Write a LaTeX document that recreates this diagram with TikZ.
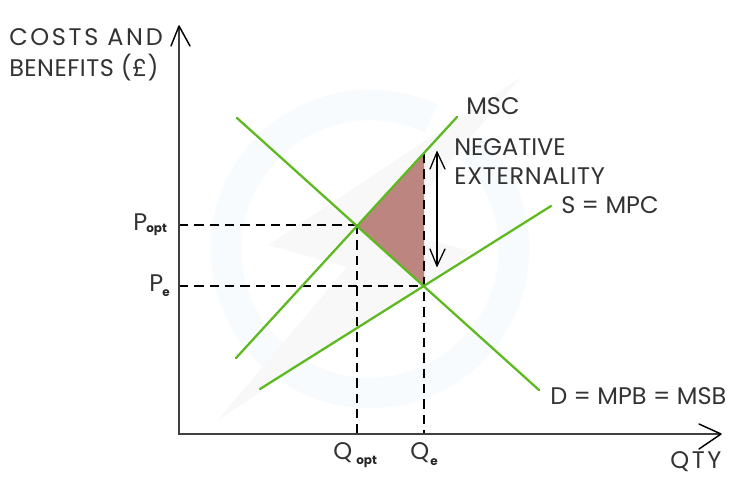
\documentclass[tikz,border=0pt]{standalone}
\usepackage{fontspec}
\setmainfont{Poppins}
\definecolor{curve}{HTML}{5DB91F}
\definecolor{wedge}{HTML}{BC8580}
\definecolor{wm}{HTML}{F8FBFD}
\definecolor{wmg}{HTML}{F8F8F8}
\newcommand{\spaced}[1]{\addfontfeature{LetterSpace=#1}}
\tikzset{
  x=0.75pt,y=-0.75pt,
  axis/.style={draw=black!75,line width=1.5pt},
  tip/.style={draw=black,line width=1.1pt,line cap=round,line join=round},
  curveline/.style={draw=curve,line width=1.7pt,line cap=round},
  guide/.style={draw=black,line width=0.95pt,dash pattern=on 7pt off 4.5pt},
  lab/.style={inner sep=0pt,font=\fontsize{18}{20}\selectfont,anchor=west,text=black!80},
  small/.style={inner sep=0pt,font=\fontsize{9}{11}\selectfont\bfseries,anchor=west,text=black!85}
}
\begin{document}
\begin{tikzpicture}
\useasboundingbox (0,0) rectangle (746,480);
\fill[white] (0,0) rectangle (746,480);
% watermark
\draw[wm,line width=23pt] (370,249) ++(-45:144) arc[start angle=-45,end angle=295,radius=144];
\fill[wmg] (520,78) -- (268,245) -- (347,267) -- (218,420) -- (473,252) -- (393,230) -- cycle;
% coordinates
\coordinate (O) at (179,434);
\coordinate (ytop) at (179,26);
\coordinate (xend) at (721,434);
\coordinate (opt) at (357,225);
\coordinate (eq) at (424,286);
\coordinate (top) at (424,154);
\coordinate (popt) at (179,225);
\coordinate (pe) at (179,286);
\coordinate (qopt) at (357,434);
\coordinate (qe) at (424,434);
\coordinate (mscA) at (236,358);
\coordinate (mscB) at (457,117);
\coordinate (sA) at (260,389);
\coordinate (sB) at (551,206);
\coordinate (dA) at (237,118);
\coordinate (dB) at (539,390);
\coordinate (arrT) at (437,152);
\coordinate (arrB) at (437,266);
% wedge
\fill[wedge] (opt) -- (top) -- (eq) -- cycle;
% guides
\draw[guide] (popt) -- (opt);
\draw[guide] (pe) -- (eq);
\draw[guide] (opt) -- (qopt);
\draw[guide] (top) -- (qe);
% curves
\draw[curveline] (mscA) -- (mscB);
\draw[curveline] (sA) -- (sB);
\draw[curveline] (dA) -- (dB);
% axes
\draw[axis] (ytop) -- (O) -- (xend);
\draw[tip] (171,46) -- (179,26) -- (190,46);
\draw[tip] (699,424) -- (721,434) -- (699,449);
% double arrow
\draw[tip,line width=0.95pt] (arrT) -- (arrB);
\draw[tip,line width=0.95pt] (430,169) -- (arrT) -- (445,169);
\draw[tip,line width=0.95pt] (430,249) -- (arrB) -- (445,249);
% labels
\node[lab] (ylab1) at (9,37) {\spaced{11}COSTS AND};
\node[lab] (ylab2) at (9,68) {\spaced{2}BENEFITS (£)};
\node[lab] (msc) at (466,106) {MSC};
\node[lab] (neg1) at (454,147) {NEGATIVE};
\node[lab] (neg2) at (454,176) {\spaced{3}EXTERNALITY};
\node[lab] (smpc) at (561,205) {S = MPC};
\node[lab] (dmpb) at (550,396) {D = MPB = MSB};
\node[lab] (qty) at (670,462) {\spaced{11}QTY};
\node[lab] (pol) at (133,222) {P};
\node[small] (pos) at (146,230) {opt};
\node[lab] (pel) at (149,283) {P};
\node[small] (pes) at (162,293) {e};
\node[lab] (qol) at (333,453) {Q};
\node[small] (qos) at (356,462) {opt};
\node[lab] (qel) at (410,453) {Q};
\node[small] (qes) at (430,462) {e};
\end{tikzpicture}
\end{document}
